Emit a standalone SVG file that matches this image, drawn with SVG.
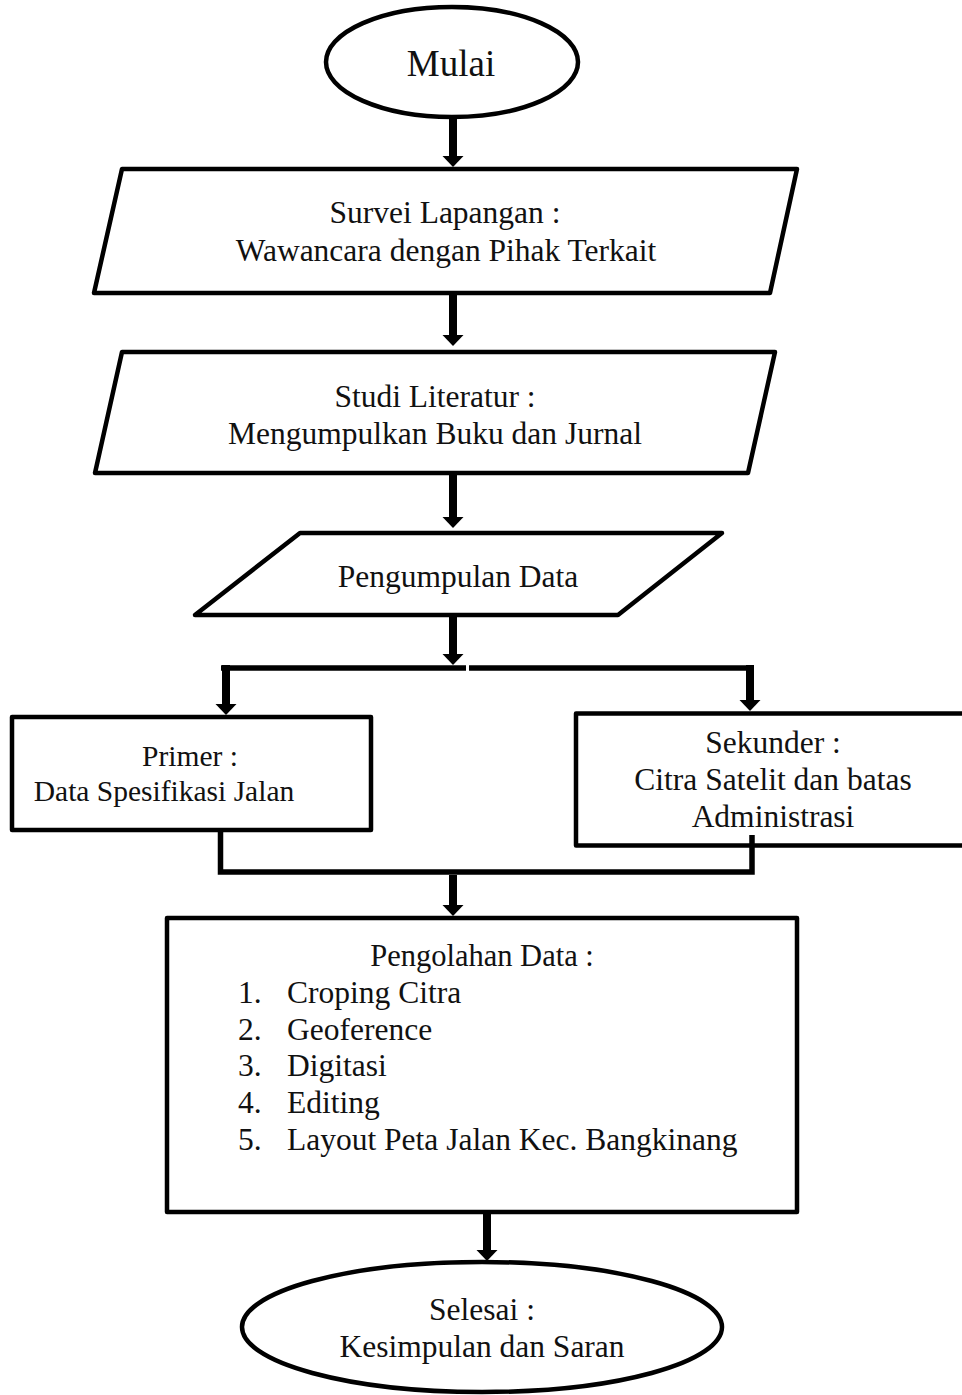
<svg xmlns="http://www.w3.org/2000/svg" xmlns:xlink="http://www.w3.org/1999/xlink" width="962" height="1395" viewBox="0 0 962 1395">
<style>
.shape{fill:#fff;stroke:#000;stroke-width:4.5;stroke-linejoin:round}
.line{fill:none;stroke:#000;stroke-width:5.5}
.shaft{fill:none;stroke:#000;stroke-width:8}
.t{font-family:"Liberation Serif","Times New Roman",serif;font-size:31.5px;fill:#111;text-anchor:middle}
.l{font-family:"Liberation Serif","Times New Roman",serif;font-size:31.5px;fill:#111}
</style>
<defs>
<path id="head" d="M-10.5,-11 H10.5 L0,0 Z" fill="#000"/>
</defs>
<rect width="962" height="1395" fill="#fff"/>

<g id="mulai">
<ellipse class="shape" cx="452" cy="62" rx="126" ry="55"/>
<text class="t" x="451" y="76" style="font-size:37px">Mulai</text>
</g>

<g id="survei">
<polygon class="shape" points="122,169 797,169 770,293 94,293"/>
<text class="t" x="445" y="223">Survei Lapangan :</text>
<text class="t" x="446" y="261">Wawancara dengan Pihak Terkait</text>
</g>

<g id="studi">
<polygon class="shape" points="122,352 775,352 748,473 95,473"/>
<text class="t" x="435" y="407">Studi Literatur :</text>
<text class="t" x="435" y="444">Mengumpulkan Buku dan Jurnal</text>
</g>

<g id="pengumpulan">
<polygon class="shape" points="300,533 722,533 618,615 195,615"/>
<text class="t" x="458" y="587">Pengumpulan Data</text>
</g>

<g id="primer">
<rect class="shape" x="12" y="717" width="359" height="113"/>
<text class="t" x="190" y="766" style="font-size:29.5px">Primer :</text>
<text class="t" x="164" y="801" style="font-size:29.5px">Data Spesifikasi Jalan</text>
</g>

<g id="sekunder">
<path class="shape" d="M966,713.5 H576 V845.5 H966"/>
<text class="t" x="773" y="753">Sekunder :</text>
<text class="t" x="773" y="790">Citra Satelit dan batas</text>
<text class="t" x="773" y="827">Administrasi</text>
</g>

<g id="pengolahan">
<rect class="shape" x="167" y="918" width="630" height="294"/>
<text class="t" x="482" y="966" style="font-size:30.5px">Pengolahan Data :</text>
<text class="l" x="238" y="1003">1.</text><text class="l" x="287" y="1003">Croping Citra</text>
<text class="l" x="238" y="1040">2.</text><text class="l" x="287" y="1040">Geoference</text>
<text class="l" x="238" y="1076">3.</text><text class="l" x="287" y="1076">Digitasi</text>
<text class="l" x="238" y="1113">4.</text><text class="l" x="287" y="1113">Editing</text>
<text class="l" x="238" y="1150">5.</text><text class="l" x="287" y="1150">Layout Peta Jalan Kec. Bangkinang</text>
</g>

<g id="selesai">
<ellipse class="shape" cx="482" cy="1327" rx="240" ry="65"/>
<text class="t" x="482" y="1320">Selesai :</text>
<text class="t" x="482" y="1357">Kesimpulan dan Saran</text>
</g>

<g id="connectors">
<path class="shaft" d="M453,119 V157"/><use xlink:href="#head" x="453" y="167"/>
<path class="shaft" d="M453,295 V335"/><use xlink:href="#head" x="453" y="346"/>
<path class="shaft" d="M453,475 V517"/><use xlink:href="#head" x="453" y="528"/>
<path class="shaft" d="M453,617 V655"/><use xlink:href="#head" x="453" y="665"/>
<path class="line" d="M221,668 H466"/>
<path class="line" d="M469,668 H753"/>
<path class="shaft" d="M226,665 V704"/><use xlink:href="#head" x="226" y="715"/>
<path class="shaft" d="M750,665 V700"/><use xlink:href="#head" x="750" y="711"/>
<path class="line" d="M220.5,832 V872 H752 V835"/>
<path class="shaft" d="M453,875 V906"/><use xlink:href="#head" x="453" y="916"/>
<path class="shaft" d="M487,1214 V1250"/><use xlink:href="#head" x="487" y="1261"/>
</g>
</svg>
